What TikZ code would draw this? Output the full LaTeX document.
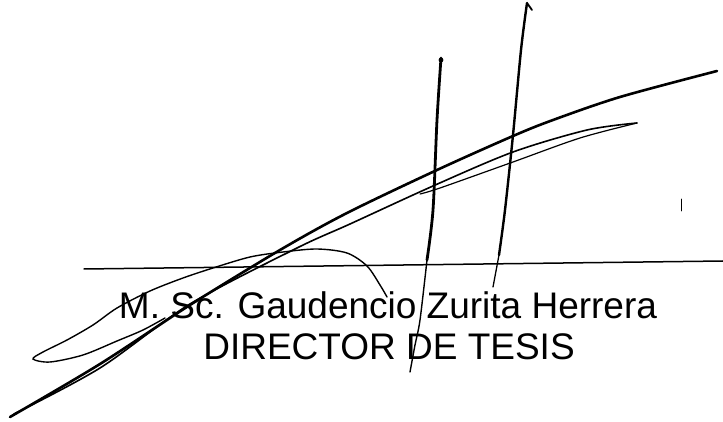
\documentclass[tikz,border=0pt]{standalone}
\usepackage{fontspec}
\setmainfont{Liberation Sans}
\begin{document}
\begin{tikzpicture}[x=1pt,y=-1pt,semithick,line cap=round,every node/.append style={font=\fontsize{37}{41}\selectfont,inner sep=0pt}]
\useasboundingbox (0,0) rectangle (723,422);

%
% signature line and printed name
%
\draw[line width=1.5pt] (84,269) -- (723,261);
\node (name) [anchor=base] at (388,318) {M. Sc. Gaudencio Zurita Herrera};
\node (role) [anchor=base] at (389,359) {DIRECTOR DE TESIS};

%
% signature
%
\draw[line width=2.6pt] plot [smooth] coordinates {(717,71) (620,97) (553,120) (513,136) (437,170) (347,213) (280,250) (190,305) (100,364) (10,417)}; % long stroke
\draw[line width=1.6pt] plot [smooth] coordinates {(637,123) (587,130) (513,152) (433,186) (350,224) (297,248) (190,304) (100,368) (14,414)}; % lens upper
\draw[line width=1.2pt] plot [smooth] coordinates {(637,123) (580,138) (513,162) (440,188) (420,194)}; % lens lower

\draw[line width=1.4pt] plot [smooth] coordinates {(165,318) (143,330) (117,341) (83,355) (50,362) (33,359) (43,352) (67,340) (93,325) (117,308) (150,291) (183,278) (213,268) (250,257) (283,252) (317,249) (347,253) (367,266) (380,285) (387,297)}; % loop and arc

\draw[line width=2.8pt] plot [smooth] coordinates {(441,58) (437,120) (433,210) (427,260)}; % left stem
\draw[line width=1.4pt] plot [smooth] coordinates {(427,260) (420,320) (415,345) (410,372)};
\fill (441,60) circle (2.4pt);

\draw[line width=2.4pt] plot [smooth] coordinates {(527,3) (521,50) (513,135) (505,210) (499,255)}; % right stem
\draw[line width=1.3pt] (499,255) -- (493,287);
\draw[line width=1.8pt] (527,3) -- (532,10); % hook

\draw[line width=0.9pt] (681,199) -- (681,211); % stray mark

\end{tikzpicture}
\end{document}
